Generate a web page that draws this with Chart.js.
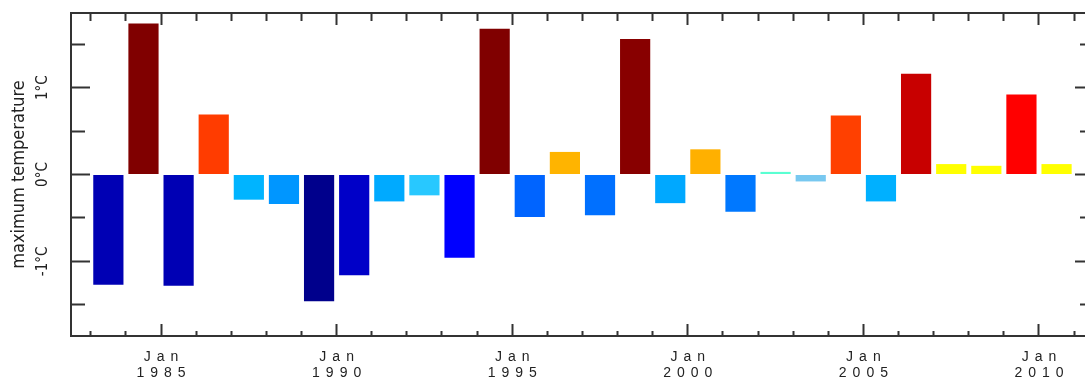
<!DOCTYPE html>
<html>
<head>
<meta charset="utf-8">
<script src="https://cdn.jsdelivr.net/npm/chart.js@4/dist/chart.umd.min.js"></script>
<style>
  html, body { margin: 0; padding: 0; background: #fff; }
  #wrap { width: 1085px; height: 382px; }
</style>
</head>
<body>
<div id="wrap"><canvas id="tmaxChart"></canvas></div>
<script>
// yearly anomaly of maximum temperature, one bar per year
const years = [1983, 1984, 1985, 1986, 1987, 1988, 1989, 1990, 1991, 1992,
  1993, 1994, 1995, 1996, 1997, 1998, 1999, 2000, 2001, 2002,
  2003, 2004, 2005, 2006, 2007, 2008, 2009, 2010];
const tmaxAnomaly = [-1.27, 1.74, -1.28, 0.69, -0.29, -0.34, -1.46, -1.16, -0.31, -0.24,
  -0.96, 1.68, -0.49, 0.26, -0.47, 1.56, -0.33, 0.29, -0.43, 0.03,
  -0.08, 0.68, -0.31, 1.16, 0.12, 0.10, 0.92, 0.12];
const barColors = ['#0000b4', '#800000', '#0000b4', '#ff3c00', '#00b4ff', '#0096ff', '#00008c', '#0000c8', '#00aaff', '#28c8ff',
  '#0000ff', '#800000', '#0064ff', '#ffb400', '#0070ff', '#880000', '#00a8ff', '#ffb000', '#0078ff', '#5affd2',
  '#78c8f0', '#ff4000', '#00b0ff', '#c80000', '#ffff00', '#ffff00', '#ff0000', '#ffff00'];

// axis ticks
const yearTicks = [1983, 1984, 1985, 1986, 1987, 1988, 1989, 1990, 1991, 1992,
  1993, 1994, 1995, 1996, 1997, 1998, 1999, 2000, 2001, 2002,
  2003, 2004, 2005, 2006, 2007, 2008, 2009, 2010, 2011];
const labelYears = [1985, 1990, 1995, 2000, 2005, 2010];
const tempTicks = [-1.5, -1, -0.5, 0, 0.5, 1, 1.5];
const tempLabels = [-1, 0, 1];

const X_MIN = 1982.436, X_MAX = 2011.31;
const Y_MIN = -1.86, Y_MAX = 1.86;

const AXIS = '#333';
const NARROW = "'Liberation Sans Narrow', 'DejaVu Sans Condensed', 'Liberation Sans', sans-serif";

const isMajorYear = c => !c.tick || labelYears.includes(c.tick.value);
const isMajorTemp = c => !c.tick || tempLabels.includes(c.tick.value);

// x labels are drawn with wide letter spacing (x axis layer runs before the datasets,
// the y axis layers are pushed after them with z: 1)
const spacedLabels = {
  id: 'spacedLabels',
  beforeDraw(chart) { chart.ctx.letterSpacing = '6px'; },
  beforeDatasetsDraw(chart) { chart.ctx.letterSpacing = '0px'; }
};

new Chart(document.getElementById('tmaxChart'), {
  type: 'bar',
  data: {
    datasets: [{
      data: years.map((yr, i) => ({ x: yr + 0.5, y: tmaxAnomaly[i] })),
      backgroundColor: barColors,
      borderWidth: 0,
      barPercentage: 0.86,
      categoryPercentage: 1,
      xAxisID: 'x',
      yAxisID: 'y'
    }]
  },
  options: {
    responsive: true,
    maintainAspectRatio: false,
    animation: false,
    layout: { padding: { top: 13, left: 0, right: 0, bottom: 0 } },
    plugins: { legend: { display: false }, tooltip: { enabled: false } },
    scales: {
      x: {
        type: 'linear',
        position: 'bottom',
        offset: false,
        min: X_MIN,
        max: X_MAX,
        afterBuildTicks: s => { s.ticks = yearTicks.map(v => ({ value: v })); },
        afterFit: s => { s.height = 46; s.paddingLeft = 0; s.paddingRight = 0; },
        ticks: {
          autoSkip: false,
          maxRotation: 0,
          padding: 25,
          labelOffset: 3,
          color: '#222',
          font: { family: "'Liberation Sans', Arial, sans-serif", size: 14, lineHeight: 1.15 },
          callback: v => labelYears.includes(v) ? ['Jan', String(v)] : ''
        },
        grid: {
          offset: false,
          drawOnChartArea: false,
          tickLength: -12,
          tickWidth: 2,
          tickColor: AXIS,
          tickBorderDash: c => isMajorYear(c) ? [] : [6, 50]
        },
        border: { color: AXIS, width: 2 }
      },
      xTop: {
        type: 'linear',
        axis: 'x',
        position: { y: Y_MAX },
        offset: false,
        min: X_MIN,
        max: X_MAX,
        afterBuildTicks: s => { s.ticks = yearTicks.map(v => ({ value: v })); },
        ticks: { display: false },
        grid: {
          offset: false,
          drawOnChartArea: false,
          tickLength: 11,
          tickWidth: 2,
          tickColor: AXIS,
          tickBorderDash: c => isMajorYear(c) ? [] : [7, 50]
        },
        border: { color: AXIS, width: 2 }
      },
      y: {
        type: 'linear',
        position: 'left',
        min: Y_MIN,
        max: Y_MAX,
        afterBuildTicks: s => { s.ticks = tempTicks.map(v => ({ value: v })); },
        afterFit: s => { s.width = 71; s.paddingTop = 0; s.paddingBottom = 0; },
        ticks: {
          z: 1,
          minRotation: 90,
          maxRotation: 90,
          crossAlign: 'center',
          padding: 32,
          color: '#222',
          font: { family: NARROW, size: 15 },
          callback: v => tempLabels.includes(v) ? v + '°C' : ''
        },
        title: {
          display: true,
          text: 'maximum temperature',
          color: '#222',
          font: { family: NARROW, size: 18 },
          padding: { top: 9, bottom: 0 }
        },
        grid: {
          z: 1,
          drawOnChartArea: false,
          tickLength: -19,
          tickWidth: 2,
          tickColor: AXIS,
          tickBorderDash: c => isMajorTemp(c) ? [] : [0, 5, 100]
        },
        border: { color: AXIS, width: 2, z: 1 }
      },
      yRight: {
        type: 'linear',
        axis: 'y',
        position: { x: X_MAX },
        min: Y_MIN,
        max: Y_MAX,
        afterBuildTicks: s => { s.ticks = tempTicks.map(v => ({ value: v })); },
        ticks: { display: false },
        grid: {
          drawOnChartArea: false,
          tickLength: 10,
          tickWidth: 2,
          tickColor: AXIS,
          tickBorderDash: c => isMajorTemp(c) ? [] : [5, 50]
        },
        border: { display: false }
      }
    }
  },
  plugins: [spacedLabels]
});
</script>
</body>
</html>
